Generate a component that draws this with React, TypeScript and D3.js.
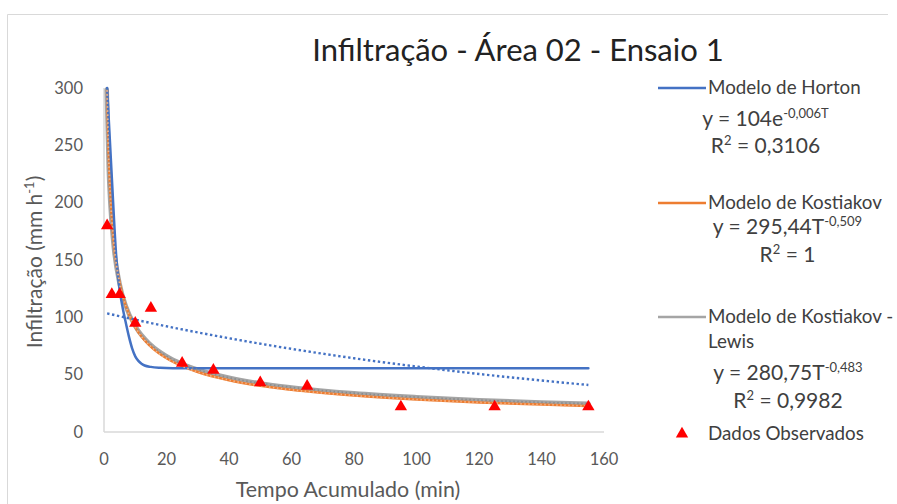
import * as d3 from 'd3';

// observed infiltration (mm/h) vs accumulated time (min)
const T_OBS = [1, 2.5, 5, 10, 15, 25, 35, 50, 65, 95, 125, 155];
const F_OBS = [180, 120, 120, 95, 108, 60, 54, 43, 40, 22, 22, 22];

// Horton model curve
const T_HORTON = [1, 2.5, 4, 5, 6, 7, 8, 9, 10, 11, 12, 13, 15, 18, 22, 30, 155];
const F_HORTON = [300, 222, 150, 124, 108, 95, 83, 73, 66, 62, 59.5, 58, 56.8, 56, 55.6, 55.5, 55.5];

// Kostiakov model curve
const T_KOST = [0.98, 1.5, 2, 3, 5, 7, 10, 15, 20, 25, 30, 40, 50, 60, 80, 100, 120, 140, 155];
const F_KOST = [298, 240.3, 207.6, 168.9, 130.2, 109.7, 91.5, 74.4, 64.3, 57.4, 52.3, 45.2, 40.3, 36.8, 31.8, 28.3, 25.8, 23.9, 22.7];

// Kostiakov-Lewis model curve
const T_KL = [0.88, 1.5, 2, 3, 5, 7, 10, 15, 20, 25, 30, 40, 50, 60, 80, 100, 120, 140, 155];
const F_KL = [298.6, 230.8, 200.9, 165.2, 129.1, 109.7, 92.3, 75.9, 66.1, 59.3, 54.3, 47.3, 42.4, 38.9, 33.8, 30.4, 27.8, 25.8, 24.6];

// exponential trend of the Horton series
const T_TREND = [1, 20, 40, 60, 80, 100, 120, 140, 155];
const F_TREND = [103.4, 92.2, 81.8, 72.5, 64.3, 57.1, 50.6, 44.9, 41.0];

const X_TICKS = [0, 20, 40, 60, 80, 100, 120, 140, 160];
const Y_TICKS = [0, 50, 100, 150, 200, 250, 300];

const BLUE = '#4472C4';
const ORANGE = '#ED7D31';
const GRAY = '#A5A5A5';
const FONT = 'Lato, Calibri, sans-serif';

type Pt = [number, number];
const zip = (t: number[], f: number[]): Pt[] => t.map((v, i) => [v, f[i]]);

export default function App() {
  const W = 897;
  const H = 504;
  const x = d3.scaleLinear().domain([0, 160]).range([104, 604]);
  const y = d3.scaleLinear().domain([0, 300]).range([432, 88]);

  const line = d3.line<Pt>()
    .x(d => x(d[0]))
    .y(d => y(d[1]))
    .curve(d3.curveMonotoneX);

  const tri = d3.symbol().type(d3.symbolTriangle).size(66)();

  const horton = zip(T_HORTON, F_HORTON);
  const kost = zip(T_KOST, F_KOST);
  const kl = zip(T_KL, F_KL);
  const trend = zip(T_TREND, F_TREND);
  const obs = zip(T_OBS, F_OBS);

  return (
    <svg width={W} height={H} style={{ position: 'absolute', left: 0, top: 0, background: '#fff' }}
      fontFamily={FONT}>
      <rect x={0} y={0} width={W} height={H} fill="#fff" />
      {/* chart frame */}
      <line x1={7.5} y1={14.5} x2={888} y2={14.5} stroke="#d9d9d9" />
      <line x1={7.5} y1={14.5} x2={7.5} y2={H} stroke="#d9d9d9" />

      <text x={518} y={61} textAnchor="middle" fontSize={31} fill="#222">
        Infiltração - Área 02 - Ensaio 1
      </text>

      <defs>
        <clipPath id="plot-clip">
          <rect x={100} y={86} width={510} height={350} />
        </clipPath>
      </defs>

      {/* axes */}
      <line x1={x(0)} y1={y(0)} x2={x(160)} y2={y(0)} stroke="#d9d9d9" strokeWidth={1.5} />
      <line x1={x(0)} y1={y(0)} x2={x(0)} y2={y(300)} stroke="#d9d9d9" strokeWidth={1.5} />

      {X_TICKS.map(t => (
        <text key={'x' + t} x={x(t)} y={465} textAnchor="middle" fontSize={16.5} fill="#595959">{t}</text>
      ))}
      {Y_TICKS.map(t => (
        <text key={'y' + t} x={83} y={y(t) + 5.5} textAnchor="end" fontSize={16.5} fill="#595959">{t}</text>
      ))}

      <text x={348} y={497} textAnchor="middle" fontSize={21.4} fill="#595959">Tempo Acumulado (min)</text>
      <text transform="translate(42,262) rotate(-90)" textAnchor="middle" fontSize={21} fill="#595959">
        Infiltração  (mm h<tspan dy={-8} fontSize={13}>-1</tspan><tspan dy={8}>)</tspan>
      </text>

      <g clipPath="url(#plot-clip)" fill="none" strokeLinecap="round">
        <path d={line(kl) ?? ''} stroke={GRAY} strokeWidth={4.5} />
        <path d={line(kost) ?? ''} stroke={ORANGE} strokeWidth={2.5} />
        <path d={line(horton) ?? ''} stroke={BLUE} strokeWidth={2.5} />
        <path d={line(kl) ?? ''} stroke="#8c8c8c" strokeWidth={1.8} strokeDasharray="1.5 2.5" strokeLinecap="butt" />
        <path d={line(kost) ?? ''} stroke="#f4b183" strokeWidth={1.8} strokeDasharray="1.5 2.5" strokeLinecap="butt" />
        <path d={line(trend) ?? ''} stroke={BLUE} strokeWidth={2.4} strokeDasharray="2.4 2.6" strokeLinecap="butt" />
      </g>

      {obs.map((d, i) => (
        <path key={'o' + i} d={tri} transform={`translate(${x(d[0])},${y(d[1])})`} fill="#FF0000" />
      ))}

      {/* legend */}
      <g fontSize={18.8} fill="#404040">
        <line x1={658} x2={706} y1={88} y2={88} stroke={BLUE} strokeWidth={2.5} />
        <text x={708} y={94}>Modelo de Horton</text>
        <text x={765.5} y={126} textAnchor="middle" fontSize={21}>
          y = 104e<tspan dy={-8} fontSize={13}>-0,006T</tspan>
        </text>
        <text x={765.5} y={153} textAnchor="middle" fontSize={21}>
          R<tspan dy={-8} fontSize={13}>2</tspan><tspan dy={8}> = 0,3106</tspan>
        </text>

        <line x1={658} x2={706} y1={203} y2={203} stroke={ORANGE} strokeWidth={2.5} />
        <text x={708} y={209}>Modelo de Kostiakov</text>
        <text x={787.5} y={234} textAnchor="middle" fontSize={21}>
          y = 295,44T<tspan dy={-8} fontSize={13}>-0,509</tspan>
        </text>
        <text x={787.5} y={262} textAnchor="middle" fontSize={21}>
          R<tspan dy={-8} fontSize={13}>2</tspan><tspan dy={8}> = 1</tspan>
        </text>

        <line x1={658} x2={706} y1={317} y2={317} stroke={GRAY} strokeWidth={2.5} />
        <text x={708} y={323}>Modelo de Kostiakov -</text>
        <text x={708} y={348}>Lewis</text>
        <text x={788} y={380} textAnchor="middle" fontSize={21}>
          y = 280,75T<tspan dy={-8} fontSize={13}>-0,483</tspan>
        </text>
        <text x={788} y={408} textAnchor="middle" fontSize={21}>
          R<tspan dy={-8} fontSize={13}>2</tspan><tspan dy={8}> = 0,9982</tspan>
        </text>

        <path d={tri} transform="translate(682,434)" fill="#FF0000" />
        <text x={708} y={440}>Dados Observados</text>
      </g>
    </svg>
  );
}
